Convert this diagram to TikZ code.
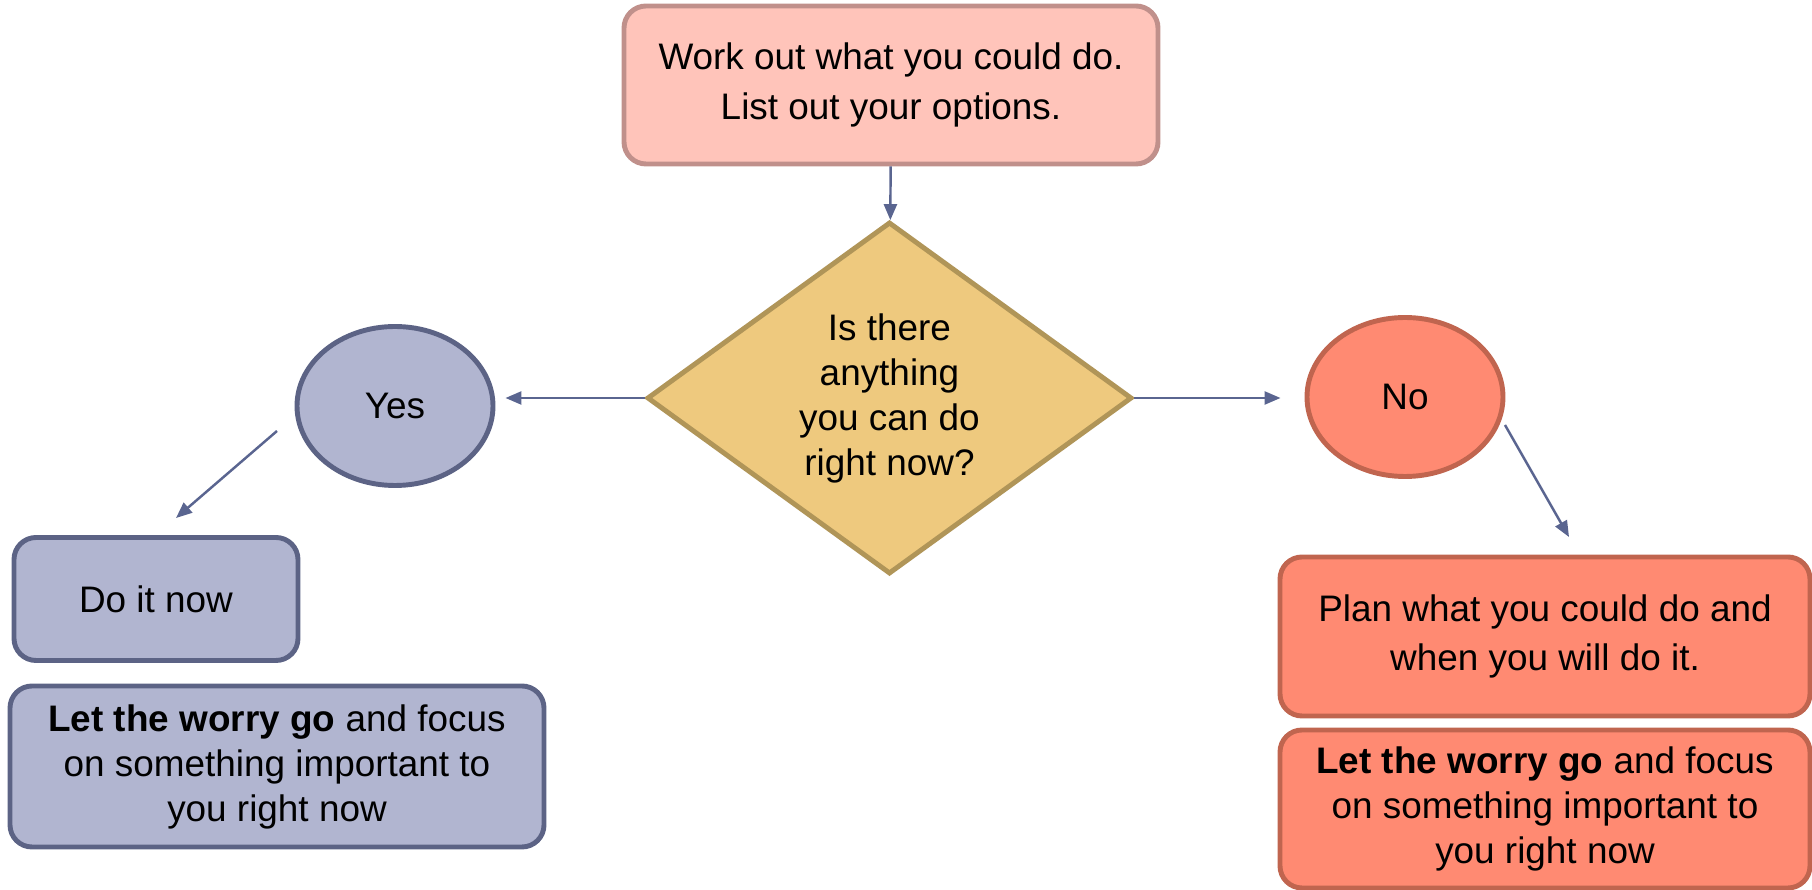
\documentclass[tikz,border=0pt]{standalone}
\usepackage{fontspec}
\setmainfont{Liberation Sans}
\usetikzlibrary{positioning,shapes,shapes.geometric,arrows.meta}
\usepackage{xcolor}
\definecolor{workfill}{HTML}{FFC4BA}
\definecolor{workline}{HTML}{C0908B}
\definecolor{askfill}{HTML}{EEC97E}
\definecolor{askline}{HTML}{B09558}
\definecolor{yesfill}{HTML}{B1B5D0}
\definecolor{yesline}{HTML}{5C6385}
\definecolor{nofill}{HTML}{FF8A72}
\definecolor{noline}{HTML}{C0654F}
\definecolor{arrowc}{HTML}{5A6590}

\begin{document}
\begin{tikzpicture}
[font=\fontsize{10.5}{12.8}\selectfont,
% The box style is used for the rounded steps
box/.style={rectangle, rounded corners=0.22cm, line width=1.4pt, align=center, inner sep=0pt},
% The oval style is used for the answers
oval/.style={ellipse, line width=1.4pt, inner sep=0pt, minimum width=1.96cm, minimum height=1.59cm},
% The line style is used for the arrows
line/.style={draw=arrowc, line width=0.7pt, -{Triangle[length=0.16cm,width=0.13cm]}}
]
\useasboundingbox (0,0) rectangle (18.12,-8.90);
% Question
\draw(8.91,-0.85)node[box, draw=workline, fill=workfill, minimum width=5.34cm, minimum height=1.58cm](work){Work out what you could do.\\[1.3pt]List out your options.};
\draw(8.895,-3.98)node[diamond, draw=askline, fill=askfill, line width=1.4pt, inner sep=0pt, align=center, minimum width=4.85cm, minimum height=3.52cm](ask){Is there\\anything\\you can do\\right now?};
% Answers
\draw(3.95,-4.06)node[oval, draw=yesline, fill=yesfill](yes){Yes};
\draw(14.05,-3.97)node[oval, draw=noline, fill=nofill](no){No};
% Yes side
\draw(1.56,-5.99)node[box, draw=yesline, fill=yesfill, minimum width=2.84cm, minimum height=1.23cm](doit){Do it now};
\draw(2.77,-7.665)node[box, draw=yesline, fill=yesfill, minimum width=5.34cm, minimum height=1.61cm](yesgo){\textbf{Let the worry go} and focus\\on something important to\\you right now};
% No side
\draw(15.45,-6.365)node[box, draw=noline, fill=nofill, minimum width=5.30cm, minimum height=1.59cm](plan){Plan what you could do and\\[1.3pt]when you will do it.};
\draw(15.45,-8.09)node[box, draw=noline, fill=nofill, minimum width=5.30cm, minimum height=1.58cm](nogo){\textbf{Let the worry go} and focus\\on something important to\\you right now};
% Arrows
\coordinate (yesout) at (2.77,-4.31);
\coordinate (doin) at (1.76,-5.18);
\coordinate (noout) at (15.05,-4.25);
\coordinate (planin) at (15.69,-5.37);
\draw[line](work)--(ask);
\draw[line, shorten >=0.1cm](ask.west)--(yes.east|-ask.west);
\draw[line, shorten >=0.24cm](ask.east)--(no.west|-ask.east);
\draw[line](yesout)--(doin);
\draw[line](noout)--(planin);
\end{tikzpicture}
\end{document}
